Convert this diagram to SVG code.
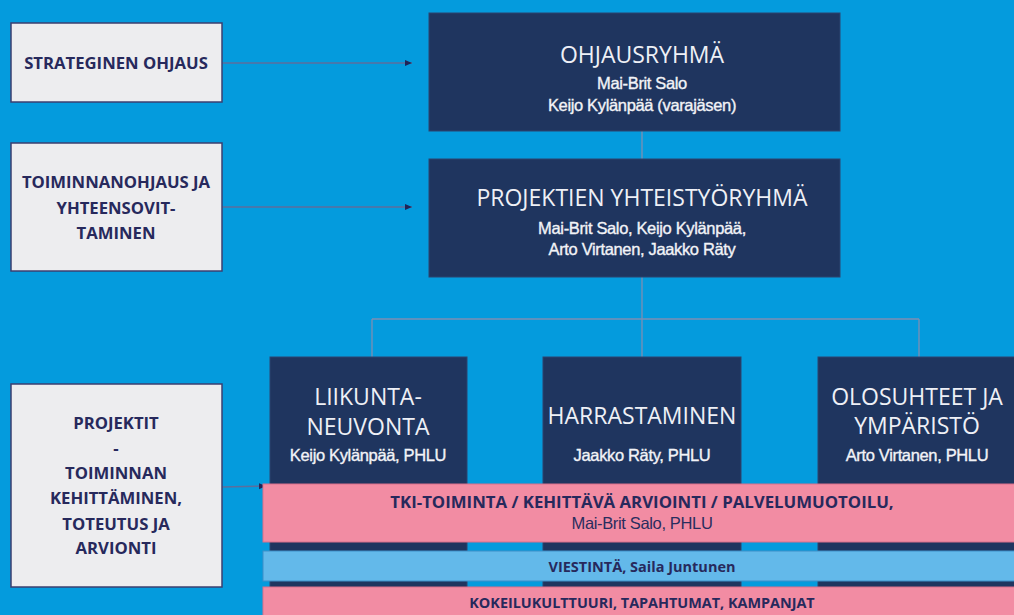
<svg xmlns="http://www.w3.org/2000/svg" width="1014" height="615" viewBox="0 0 1014 615">
<defs>
<style>
.bg{fill:#049bdd}
.side{fill:#ededef;stroke:#3b3f70;stroke-width:1.5}
.dark{fill:#1f355f;stroke:#2c4470;stroke-width:1}
.pink{fill:#f28ca3;stroke:#d9708c;stroke-width:1}
.blue{fill:#63b9ea;stroke:#3f8fc8;stroke-width:1}
.st{font-family:"Open Sans","Liberation Sans",sans-serif;font-weight:700;font-size:16.7px;fill:#27295c;text-anchor:middle}
.title{font-family:"Open Sans","Liberation Sans",sans-serif;font-size:23px;fill:#eef0f6;text-anchor:middle}
.name{font-family:"Liberation Sans",Arial,sans-serif;font-size:16.5px;fill:#f2f3f7;stroke:#f2f3f7;stroke-width:0.35;text-anchor:middle;letter-spacing:-0.35px}
.bar{font-family:"Open Sans","Liberation Sans",sans-serif;font-weight:700;fill:#27295c;text-anchor:middle}
.conn{stroke:#5d6e9c;stroke-width:1.3;fill:none}
.tree{stroke:#7d8fb3;stroke-width:1.3;fill:none}
</style>
<marker id="arr" markerWidth="8" markerHeight="8" refX="7" refY="4" orient="auto" markerUnits="userSpaceOnUse">
<path d="M0,1 L7,4 L0,7 Z" fill="#1f2456"/>
</marker>
</defs>
<rect class="bg" x="0" y="0" width="1014" height="615"/>

<g id="connectors">
<line class="conn" x1="222" y1="63" x2="412" y2="63" marker-end="url(#arr)"/>
<line class="conn" x1="222" y1="207" x2="412" y2="207" marker-end="url(#arr)"/>
<line class="conn" x1="222" y1="487" x2="266" y2="486" marker-end="url(#arr)"/>
<line class="tree" x1="642" y1="131" x2="642" y2="159"/>
<path class="tree" d="M642,277 V319 M372,319 H919 M372,319 V357 M642,319 V357 M919,319 V357"/>
</g>

<g id="side-strateginen">
<rect class="side" x="11" y="23" width="211" height="79"/>
<text class="st" x="116" y="69">STRATEGINEN OHJAUS</text>
</g>
<g id="side-toiminnanohjaus">
<rect class="side" x="11" y="143" width="211" height="128"/>
<text class="st" x="116" y="188">TOIMINNANOHJAUS JA</text>
<text class="st" x="116" y="214">YHTEENSOVIT-</text>
<text class="st" x="116" y="239">TAMINEN</text>
</g>
<g id="side-projektit">
<rect class="side" x="11" y="384" width="211" height="203"/>
<text class="st" x="116" y="429">PROJEKTIT</text>
<text class="st" x="116" y="454">-</text>
<text class="st" x="116" y="479">TOIMINNAN</text>
<text class="st" x="116" y="504">KEHITTÄMINEN,</text>
<text class="st" x="116" y="530">TOTEUTUS JA</text>
<text class="st" x="116" y="554">ARVIONTI</text>
</g>

<g id="ohjausryhma">
<rect class="dark" x="429" y="13" width="411" height="118"/>
<text class="title" x="642" y="63">OHJAUSRYHMÄ</text>
<text class="name" x="642" y="89">Mai-Brit Salo</text>
<text class="name" x="642" y="111">Keijo Kylänpää (varajäsen)</text>
</g>
<g id="yhteistyoryhma">
<rect class="dark" x="429" y="159" width="411" height="118"/>
<text class="title" x="642" y="206">PROJEKTIEN YHTEISTYÖRYHMÄ</text>
<text class="name" x="642" y="234">Mai-Brit Salo, Keijo Kylänpää,</text>
<text class="name" x="642" y="255">Arto Virtanen, Jaakko Räty</text>
</g>

<g id="liikuntaneuvonta">
<rect class="dark" x="270" y="357" width="197" height="258"/>
<text class="title" x="368" y="405">LIIKUNTA-</text>
<text class="title" x="368" y="435">NEUVONTA</text>
<text class="name" x="368" y="461">Keijo Kylänpää, PHLU</text>
</g>
<g id="harrastaminen">
<rect class="dark" x="543" y="357" width="198" height="258"/>
<text class="title" x="642" y="424">HARRASTAMINEN</text>
<text class="name" x="642" y="461">Jaakko Räty, PHLU</text>
</g>
<g id="olosuhteet">
<rect class="dark" x="818" y="357" width="197" height="258"/>
<text class="title" x="917" y="405">OLOSUHTEET JA</text>
<text class="title" x="917" y="434">YMPÄRISTÖ</text>
<text class="name" x="917" y="461">Arto Virtanen, PHLU</text>
</g>

<g id="tki">
<rect class="pink" x="263" y="484" width="752" height="58"/>
<text class="bar" x="642" y="508" font-size="16.8">TKI-TOIMINTA / KEHITTÄVÄ ARVIOINTI / PALVELUMUOTOILU,</text>
<text class="name" x="642" y="529" style="fill:#2a2d5e;stroke:none">Mai-Brit Salo, PHLU</text>
</g>
<g id="viestinta">
<rect class="blue" x="263" y="551" width="752" height="30"/>
<text class="bar" x="642" y="572" font-size="14.5">VIESTINTÄ, Saila Juntunen</text>
</g>
<g id="kokeilukulttuuri">
<rect class="pink" x="263" y="587" width="752" height="30"/>
<text class="bar" x="642" y="608" font-size="14.4">KOKEILUKULTTUURI, TAPAHTUMAT, KAMPANJAT</text>
</g>
</svg>
